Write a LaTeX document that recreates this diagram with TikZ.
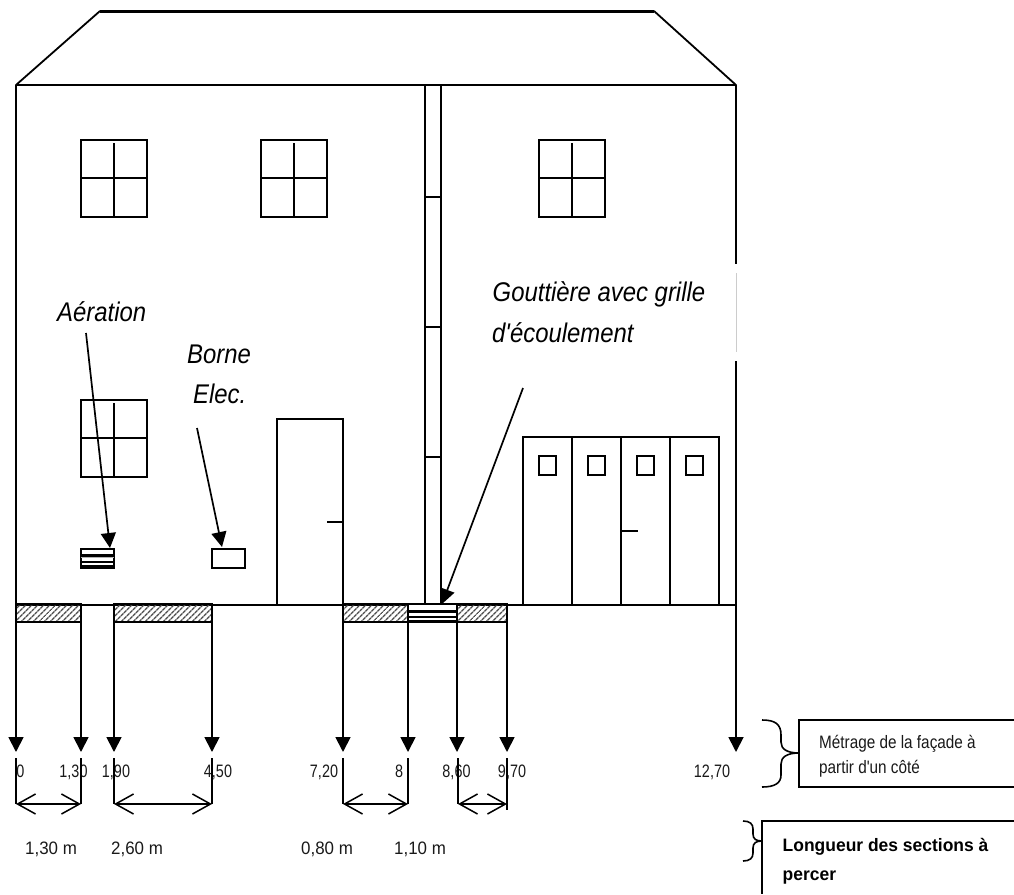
\documentclass[tikz,border=0pt]{standalone}
\usepackage{fontspec}
\setmainfont{Liberation Sans}
\newfontfamily\plainf{Liberation Sans}
\usetikzlibrary{arrows.meta,patterns.meta}
\newcommand{\nar}[2]{\scalebox{#1}[1]{#2}}
\tikzset{
  x=1pt,y=-1pt,
  ln/.style={line width=1.8pt,black},
  win/.style={line width=1.8pt},
  drop/.style={line width=1.8pt,-{Triangle[length=15pt,width=15pt]}},
  lead/.style={line width=1.7pt,-{Triangle[length=15pt,width=15pt]}},
  dim/.style={line width=1.3pt,{Straight Barb[length=18pt,width=20pt,line width=1.5pt]}-{Straight Barb[length=18pt,width=20pt,line width=1.5pt]}},
  tick/.style={line width=1.8pt},
  hatchbox/.style={draw,line width=1.8pt,pattern={Lines[angle=45,distance=4pt,line width=1.4pt]},pattern color=black!70},
  boxn/.style={draw,line width=1.8pt,minimum height=19pt,inner sep=0pt,outer sep=0pt,anchor=north west,fill=white},
  note/.style={font=\plainf\fontsize{27}{27}\selectfont\itshape,anchor=base west,inner sep=0pt},
  num/.style={font=\fontsize{18}{18}\selectfont,anchor=base,inner sep=0pt,text=black!90},
  lenlab/.style={font=\fontsize{18}{18}\selectfont,anchor=base west,inner sep=0pt,text=black!90},
  legs/.style={font=\plainf\fontsize{18}{18}\selectfont,anchor=base west,inner sep=0pt,text=black!90},
  legb/.style={font=\plainf\fontsize{18}{18}\selectfont\bfseries,anchor=base west,inner sep=0pt},
}
\begin{document}
\begin{tikzpicture}
\useasboundingbox (0,0) rectangle (1014,894);
% house
\coordinate (rL) at (16,85); \coordinate (rR) at (736,85);
\coordinate (rTL) at (100,11); \coordinate (rTR) at (654,11);
\draw[ln,line join=round] (rTL) -- (rL) -- (rR) -- (rTR);
\draw[line width=3pt] (rTL) -- (rTR);
\draw[ln] (16,85) -- (16,605) -- (736,605);
\draw[ln] (736,85) -- (736,264);
\draw[line width=1pt,black!20] (736.5,273) -- (736.5,352);
\draw[ln] (736,361) -- (736,605);
% gutter
\draw[ln] (425,85) -- (425,605) (441,85) -- (441,605);
\foreach \y in {197,327,457} \draw[ln] (425,\y) -- (441,\y);
% windows
\foreach \x/\y in {81/140,261/140,539/140,81/400}{
  \draw[win] (\x,\y) rectangle ++(66,77);
  \draw[win] (\x+33,\y+3) -- ++(0,74) (\x,\y+38) -- ++(66,0);
}
\draw[line width=2.6pt] (81,438) -- (147,438);
% door
\draw[ln] (277,605) -- (277,419) -- (343,419) -- (343,605);
\draw[ln] (327,522) -- (343,522);
% garage
\draw[ln] (523,605) -- (523,437) -- (719,437) -- (719,605);
\draw[ln] (572,437) -- (572,605) (670,437) -- (670,605);
\draw[line width=2.4pt] (621,437) -- (621,605);
\draw[ln] (621,531) -- (638,531);
\foreach \x in {539,588,637,686} \draw[ln] (\x,456) rectangle ++(17,19);
% vent and socket
\node[boxn,minimum width=33pt] (vent) at (81,549) {};
\fill[black] (81,553.5) rectangle (114,556.5);
\fill[black!30] (81,556.5) rectangle (114,558);
\fill[black] (81,561) rectangle (114,563);
\fill[black] (81,565) rectangle (114,568.5);
\node[boxn,minimum width=33pt] (socket) at (212,549) {};
% strips
\draw[hatchbox] (16,604) rectangle (81,622);
\draw[hatchbox] (114,604) rectangle (212,622);
\draw[hatchbox] (343,604) rectangle (408,622);
\draw[hatchbox] (457,604) rectangle (507,622);
\node[boxn,minimum width=49pt,minimum height=18pt] (grille) at (408,604) {};
\fill[black] (408,610) rectangle (457,612.5);
\fill[black] (408,616) rectangle (457,618);
\fill[black] (408,620) rectangle (457,623);
% drops
\foreach \x in {16,81,114,212,343,408,457,507} \draw[drop] (\x,622) -- (\x,752);
\draw[drop] (736,605) -- (736,752);
% numbers
\node[num] (n0) at (20.5,777) {\nar{.8}{0}};
\node[num] (n1) at (73.5,777) {\nar{.8}{1,30}};
\node[num] (n2) at (116,777) {\nar{.8}{1,90}};
\node[num] (n3) at (218,777) {\nar{.8}{4,50}};
\node[num] (n4) at (324,777) {\nar{.8}{7,20}};
\node[num] (n5) at (399,777) {\nar{.8}{8}};
\node[num] (n6) at (456.5,777) {\nar{.8}{8,60}};
\node[num] (n7) at (512,777) {\nar{.8}{9,70}};
\node[num] (n8) at (712,777) {\nar{.8}{12,70}};
% ticks
\foreach \x in {16,81,114,212,343,458} \draw[tick] (\x,758) -- (\x,804);
\draw[line width=2.6pt] (408,758) -- (408,804);
\draw[tick] (507,758) -- (507,810);
% dims
\foreach \a/\b in {16/81,114/212,343/408,458/507} \draw[dim] (\a,804) -- (\b,804);
% lengths
\node[lenlab] (l1) at (25,854) {\nar{.94}{1,30 m}};
\node[lenlab] (l2) at (111,854) {\nar{.94}{2,60 m}};
\node[lenlab] (l3) at (301,854) {\nar{.94}{0,80 m}};
\node[lenlab] (l4) at (394,854) {\nar{.94}{1,10 m}};
% notes
\node[note] (aer) at (57,321) {\nar{.885}{Aération}};
\node[note] (bor) at (187,363) {\nar{.885}{Borne}};
\node[note] (ele) at (193,403) {\nar{.885}{Elec.}};
\node[note] (gou) at (492.5,301) {\nar{.885}{Gouttière avec grille}};
\node[note] (eco) at (492,342) {\nar{.885}{d'écoulement}};
\draw[lead] (86,333) -- (110,548);
\draw[lead] (197,428) -- (222,547);
\draw[lead] (523,388) -- (442,604);
% legend
\draw[ln] (1014,720) -- (799,720) -- (799,787) -- (1014,787);
\draw[ln] (1014,821) -- (762,821) -- (762,894);
\draw[line width=1.6pt] (762,720) .. controls (775,720) and (781,724) .. (781,735) -- (781,742) .. controls (781,749) and (787,753) .. (799,753) .. controls (787,753) and (781,757) .. (781,764) -- (781,775) .. controls (781,783) and (775,787) .. (762,787);
\draw[line width=1.6pt] (743,821) .. controls (750,821) and (753,824) .. (753,829) -- (753,834) .. controls (753,839) and (756,841) .. (762,841) .. controls (756,841) and (753,843) .. (753,848) -- (753,853) .. controls (753,858) and (750,861) .. (743,861);
\node[legs] (t1) at (819,748) {\nar{.85}{Métrage de la façade à}};
\node[legs] (t2) at (819,773) {\nar{.85}{partir d'un côté}};
\node[legb] (t3) at (782.5,851.5) {\nar{.97}{Longueur des sections à}};
\node[legb] (t4) at (782.5,880) {\nar{.97}{percer}};
\end{tikzpicture}
\end{document}
